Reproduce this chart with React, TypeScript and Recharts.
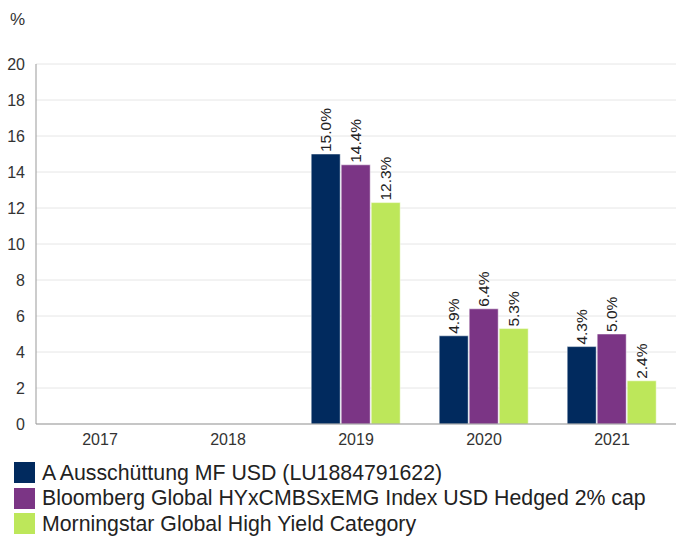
import { BarChart, Bar, XAxis, YAxis, CartesianGrid, LabelList } from "recharts";

const years = ["2017", "2018", "2019", "2020", "2021"];
const fund = [null, null, 15.0, 4.9, 4.3];
const index = [null, null, 14.4, 6.4, 5.0];
const category = [null, null, 12.3, 5.3, 2.4];
const yTicks = [0, 2, 4, 6, 8, 10, 12, 14, 16, 18, 20];

const series = [
  { key: "fund", name: "A Ausschüttung MF USD (LU1884791622)", color: "#012a5e" },
  { key: "index", name: "Bloomberg Global HYxCMBSxEMG Index USD Hedged 2% cap", color: "#7b3585" },
  { key: "category", name: "Morningstar Global High Yield Category", color: "#bde75a" },
];

const data = years.map((y, i) => ({ year: y, fund: fund[i], index: index[i], category: category[i] }));

const font = "Arial, 'Liberation Sans', sans-serif";

function RotLabel(props: any) {
  const { x, y, width, value } = props;
  if (value == null) return null;
  const cx = x + width / 2;
  const cy = y - 2;
  return (
    <text
      x={cx}
      y={cy}
      transform={`rotate(-90 ${cx} ${cy})`}
      textAnchor="start"
      dominantBaseline="central"
      fontSize={15.5}
      fill="#222"
      fontFamily={font}
    >
      {value.toFixed(1)}%
    </text>
  );
}

export default function App() {
  return (
    <div style={{ position: "absolute", left: 0, top: 0, width: 676, height: 536, background: "#fff", fontFamily: font }}>
      <div style={{ position: "absolute", left: 10, top: 10, fontSize: 17, color: "#333" }}>%</div>
      <BarChart
        width={676}
        height={456}
        data={data}
        margin={{ top: 64, right: 0, left: 0, bottom: 0 }}
        barCategoryGap="15%"
        barGap={1}
      >
        <CartesianGrid vertical={false} stroke="#e6e6e6" />
        <XAxis
          dataKey="year"
          height={32}
          tickLine={false}
          axisLine={{ stroke: "#999" }}
          tick={{ fontSize: 16, fill: "#333", fontFamily: font }}
          tickMargin={4}
        />
        <YAxis
          width={36}
          domain={[0, 20]}
          ticks={yTicks}
          interval={0}
          tickLine={false}
          axisLine={{ stroke: "#999" }}
          tick={{ fontSize: 16, fill: "#333", fontFamily: font }}
          tickMargin={5}
        />
        {series.map((s) => (
          <Bar key={s.key} dataKey={s.key} name={s.name} fill={s.color} stroke="#fff" strokeWidth={0.5} isAnimationActive={false}>
            <LabelList dataKey={s.key} content={RotLabel} />
          </Bar>
        ))}
      </BarChart>
      <div style={{ position: "absolute", left: 14, top: 460 }}>
        {series.map((s) => (
          <div key={s.key} style={{ display: "flex", alignItems: "center", height: 25.5 }}>
            <div style={{ width: 21, height: 21, background: s.color, marginRight: 7, flexShrink: 0 }} />
            <span style={{ fontSize: 21.3, lineHeight: "24px", color: "#222", whiteSpace: "nowrap" }}>{s.name}</span>
          </div>
        ))}
      </div>
    </div>
  );
}
